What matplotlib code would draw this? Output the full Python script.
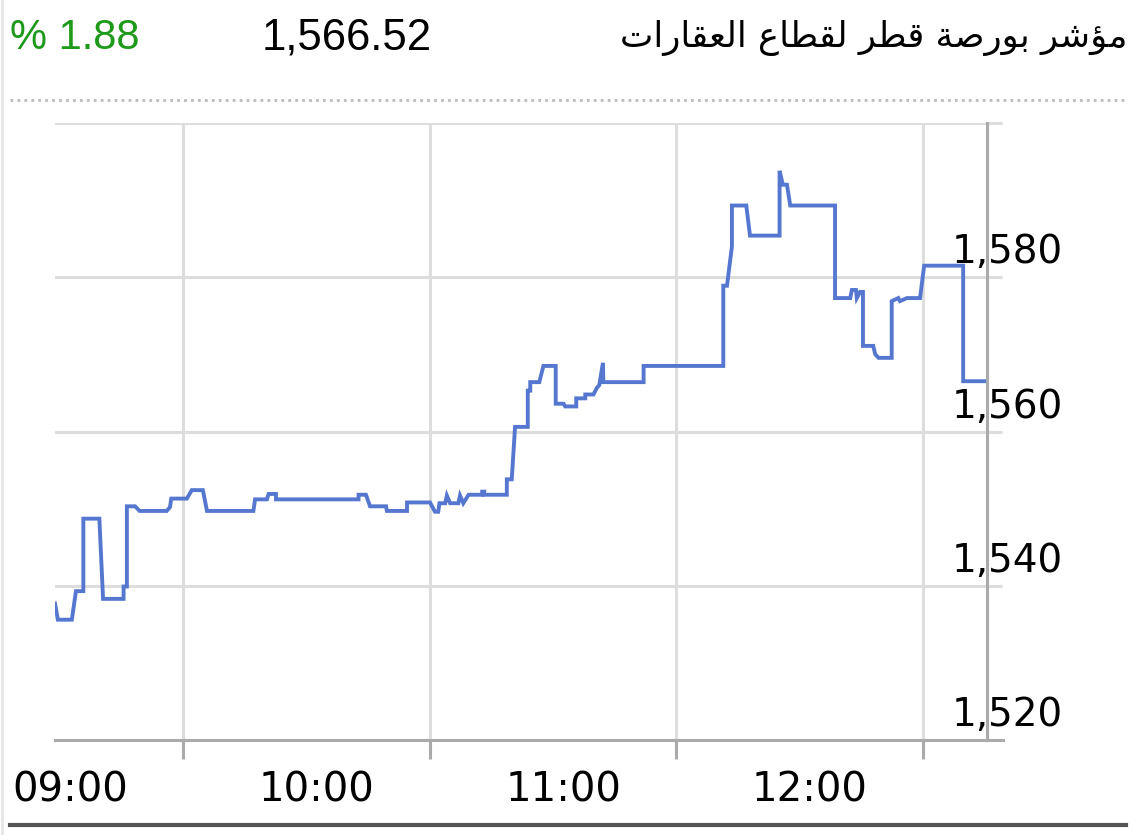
import matplotlib
matplotlib.use("Agg")
import matplotlib.pyplot as plt
from matplotlib.lines import Line2D

# minutes after 09:00 and index value
times = [28.8, 29.5, 32.9, 33.9, 35.7, 35.7, 39.6, 40.5, 45.5, 45.5, 46.3, 46.3, 48.3, 49.4,
         56.0, 56.8, 57.1, 60.9, 62.1, 64.8, 65.8, 77.1, 77.5, 80.4, 80.8, 82.6, 82.6,
         102.7, 102.7, 104.5, 105.5, 109.4, 109.6, 114.5, 114.5, 120.1, 121.3, 122.1, 122.4,
         123.8, 124.2, 125.0, 127.0, 127.4, 128.2, 129.5, 132.8, 132.8, 133.3, 133.3,
         138.8, 138.8, 140.0, 140.8, 143.9, 143.9, 144.5, 144.5, 146.7, 147.7, 150.7, 150.7,
         152.6, 153.0, 155.7, 155.7, 157.9, 157.9, 159.9, 160.7, 161.3, 162.2, 162.3, 172.1,
         172.1, 191.5, 191.5, 192.4, 193.6, 193.6, 197.1, 198.0, 205.2, 205.2, 206.0, 207.0,
         207.8, 218.7, 218.7, 222.4, 222.8, 223.8, 224.0, 224.8, 225.5, 225.5, 228.0, 228.5,
         229.3, 232.5, 232.5, 234.1, 234.5, 236.2, 239.4, 240.4, 249.9, 249.9, 255.6]
values = [1537.7, 1535.6, 1535.6, 1539.3, 1539.3, 1548.7, 1548.7, 1538.3, 1538.3, 1539.9, 1539.9, 1550.3, 1550.3, 1549.7,
          1549.7, 1550.2, 1551.3, 1551.3, 1552.4, 1552.4, 1549.7, 1549.7, 1551.2, 1551.2, 1551.9, 1551.9, 1551.2,
          1551.2, 1551.8, 1551.8, 1550.3, 1550.3, 1549.7, 1549.7, 1550.8, 1550.8, 1549.6, 1549.6, 1550.7,
          1550.7, 1551.7, 1550.7, 1550.7, 1551.7, 1550.7, 1551.8, 1551.8, 1552.2, 1552.2, 1551.8,
          1551.8, 1553.8, 1553.8, 1560.6, 1560.6, 1565.3, 1565.3, 1566.4, 1566.4, 1568.5, 1568.5, 1563.6,
          1563.6, 1563.25, 1563.25, 1564.3, 1564.3, 1564.8, 1564.8, 1565.65, 1566.0, 1568.9, 1566.4, 1566.4,
          1568.5, 1568.5, 1578.9, 1578.9, 1584.0, 1589.3, 1589.3, 1585.4, 1585.4, 1593.8, 1592.0, 1592.0,
          1589.3, 1589.3, 1577.3, 1577.3, 1578.35, 1578.35, 1577.3, 1578.1, 1578.1, 1571.1, 1571.1, 1570.0,
          1569.55, 1569.55, 1576.9, 1577.3, 1576.9, 1577.3, 1577.3, 1581.5, 1581.5, 1566.52, 1566.52]

grid_times = [60, 120, 180, 240]
y_ticks = [1520, 1540, 1560, 1580, 1600]
y_labels = ["1,520", "1,540", "1,560", "1,580"]
x_labels = ["09:00", "10:00", "11:00", "12:00"]
x_label_times = [0, 60, 120, 180]

title = "مؤشر بورصة قطر لقطاع العقارات"
last_value = "1,566.52"
change = "% 1.88"

# small arabic shaper (iso, fin, ini, med) -> presentation forms
forms = {
    "ا": ("\uFE8D", "\uFE8E", None, None),
    "ب": ("\uFE8F", "\uFE90", "\uFE91", "\uFE92"),
    "ة": ("\uFE93", "\uFE94", None, None),
    "ت": ("\uFE95", "\uFE96", "\uFE97", "\uFE98"),
    "ر": ("\uFEAD", "\uFEAE", None, None),
    "ش": ("\uFEB5", "\uFEB6", "\uFEB7", "\uFEB8"),
    "ص": ("\uFEB9", "\uFEBA", "\uFEBB", "\uFEBC"),
    "ط": ("\uFEC1", "\uFEC2", "\uFEC3", "\uFEC4"),
    "ع": ("\uFEC9", "\uFECA", "\uFECB", "\uFECC"),
    "ق": ("\uFED5", "\uFED6", "\uFED7", "\uFED8"),
    "ل": ("\uFEDD", "\uFEDE", "\uFEDF", "\uFEE0"),
    "م": ("\uFEE1", "\uFEE2", "\uFEE3", "\uFEE4"),
    "و": ("\uFEED", "\uFEEE", None, None),
    "ؤ": ("\uFE85", "\uFE86", None, None),
}


def shape(text):
    out = []
    for i, c in enumerate(text):
        if c not in forms:
            out.append(c)
            continue
        prev = text[i - 1] if i > 0 else ""
        nxt = text[i + 1] if i + 1 < len(text) else ""
        jp = prev in forms and forms[prev][2] is not None
        jn = forms[c][2] is not None and nxt in forms
        iso, fin, ini, med = forms[c]
        if jp and jn:
            out.append(med)
        elif jp:
            out.append(fin)
        elif jn:
            out.append(ini)
        else:
            out.append(iso)
    return "".join(out)[::-1]


W, H = 1147, 835
fig = plt.figure(figsize=(W / 100, H / 100), dpi=100)
ax = fig.add_axes([55 / W, 95 / H, 932 / W, 617 / H])

ax.plot(times, values, color="#5677d0", lw=2.8, solid_joinstyle="miter")
ax.set_xlim(28.8, 255.7)
ax.set_ylim(1520, 1600)

ax.set_xticks(grid_times)
ax.set_yticks(y_ticks)
ax.set_xticklabels([])
ax.set_yticklabels([])
ax.grid(color="#dddddd", lw=2.2)
ax.set_axisbelow(True)
ax.tick_params(axis="x", direction="out", length=14, width=2.2, color="#aaaaaa")
ax.tick_params(axis="y", left=False, right=True, direction="out", length=11, width=2.2, color="#dddddd")

for s in ["left", "top"]:
    ax.spines[s].set_visible(False)
ax.spines["right"].set_color("#aaaaaa")
ax.spines["right"].set_linewidth(2.2)
ax.spines["bottom"].set_color("#aaaaaa")
ax.spines["bottom"].set_linewidth(2.2)
ax.spines["bottom"].set_bounds(28.8, 259.5)

# y labels sit above their gridline, right of the axis
for v, lab in zip(y_ticks, y_labels):
    ax.annotate(lab, xy=(1063, v), xycoords=("figure pixels", "data"), xytext=(0, 10), textcoords="offset points",
                ha="right", va="baseline", fontsize=28, color="black", annotation_clip=False)

for t, lab in zip(x_label_times, x_labels):
    ax.annotate(lab, xy=(t + 32.5, 45), xycoords=("data", "figure pixels"),
                ha="center", va="center", fontsize=29, color="black", annotation_clip=False)

# header
fig.text(10 / W, 1 - 38 / H, change, color="#1e9a1a", fontsize=30, family="Liberation Sans", ha="left", va="center")
fig.text(262 / W, 1 - 38 / H, last_value, color="black", fontsize=31.5, family="Liberation Sans", ha="left", va="center")
fig.text(1127 / W, 1 - 38 / H, shape(title), color="black", fontsize=25.5, family="DejaVu Sans", ha="right", va="center")

fig.add_artist(Line2D([10 / W, 1125 / W], [1 - 100 / H] * 2, color="#bbbbbb", lw=2, linestyle=(0, (1, 1.5))))
fig.add_artist(Line2D([10 / W, 1126 / W], [10 / H] * 2, color="#555555", lw=3))
fig.add_artist(Line2D([2 / W] * 2, [0, 1], color="#e6e6e6", lw=2))

fig.savefig("out.png", dpi=100)
